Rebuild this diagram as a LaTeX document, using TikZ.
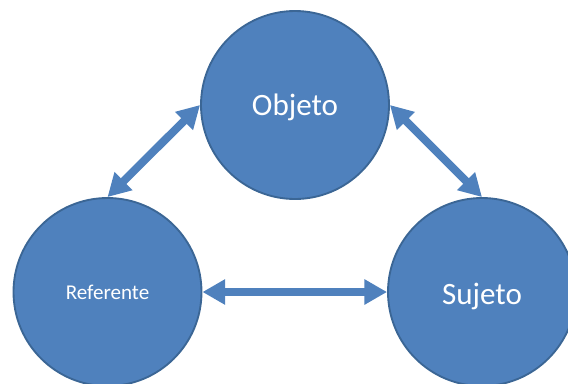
\documentclass[tikz,border=0pt]{standalone}
\usepackage{fontspec}
\setmainfont{Carlito}
\usetikzlibrary{arrows.meta}
\definecolor{nodeblue}{HTML}{4F81BD}
\definecolor{nodeedge}{HTML}{3B6695}
% lower a label inside its node without changing the node's size
\newcommand{\dropby}[2]{\raisebox{-#1}[\height][\depth]{#2}}
\begin{document}
\begin{tikzpicture}[x=0.75pt,y=-0.75pt,
  bubble/.style={circle, fill=nodeblue, draw=nodeedge, line width=1.4pt,
    minimum size=141pt, inner sep=0pt, text=white},
  bigtext/.style={font=\fontsize{23.3}{28}\selectfont},
  smalltext/.style={font=\fontsize{15.8}{19}\selectfont},
  link/.style={draw=nodeblue, line width=6pt,
    {Triangle[length=17pt,width=18pt]}-{Triangle[length=17pt,width=18pt]}}]
  \useasboundingbox (0,0) rectangle (568,383);
  \clip (0,0) rectangle (568,383);
  % the three circles
  \node[bubble, bigtext]   (obj) at (295,105) {\dropby{1.5pt}{Objeto}};
  \node[bubble, smalltext] (ref) at (107.5,292) {\dropby{0.5pt}{Referente}};
  \node[bubble, bigtext]   (suj) at (482,292) {\dropby{3pt}{Sujeto}};
  % double-headed connectors
  \draw[link] (ref.north) -- (obj.west);
  \draw[link] (obj.east) -- (suj.north);
  \draw[link] (ref.east) -- (suj.west);
\end{tikzpicture}
\end{document}
